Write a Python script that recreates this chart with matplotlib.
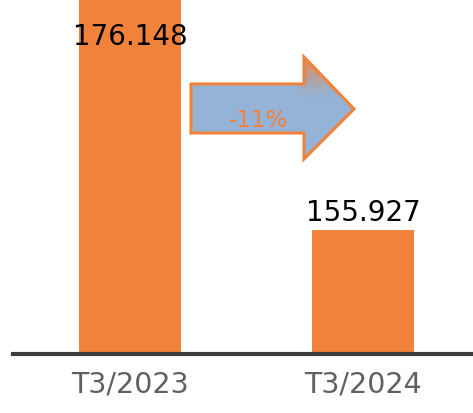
import numpy as np
import matplotlib
matplotlib.use("Agg")
import matplotlib.pyplot as plt
from matplotlib.patches import Polygon

categories = ["T3/2023", "T3/2024"]
values = [176.148, 155.927]
value_labels = ["176.148", "155.927"]
change_label = "-11%"

ORANGE = "#F0823A"
BLUE = "#95B3D7"
W, H = 473, 414
fig = plt.figure(figsize=(W / 100, H / 100), dpi=100)
ax = fig.add_axes([13 / W, 1 - 355 / H, 1 - 13 / W, 355 / H])
x = np.arange(len(categories))
ax.bar(x, values, width=0.44, color=ORANGE, zorder=2)
ax.set_ylim(145.07, 176.148)
ax.set_xlim(-0.502, 1.472)
for s in ["top", "right", "left"]:
    ax.spines[s].set_visible(False)
ax.spines["bottom"].set_color("#3A3D3F")
ax.spines["bottom"].set_linewidth(3)
ax.spines["bottom"].set_zorder(3)
ax.set_yticks([])
ax.set_xticks(x)
ax.set_xticklabels(categories, fontsize=20.5, color="#5F6060")
ax.tick_params(axis="x", length=0, pad=11)

# value labels
ax.annotate(value_labels[0], (x[0], values[0]), xytext=(0, -16.5),
            textcoords="offset points", ha="center", va="top",
            fontsize=20, color="black", zorder=4)
ax.annotate(value_labels[1], (x[1], values[1]), xytext=(0, 3),
            textcoords="offset points", ha="center", va="bottom",
            fontsize=20, color="black")

# arrow overlay in pixel coordinates
ov = fig.add_axes([0, 0, 1, 1], facecolor="none")
ov.set_xlim(0, W)
ov.set_ylim(H, 0)
ov.axis("off")
pts = [(191, 85), (304, 85), (304, 58), (354, 110), (304, 160), (304, 134), (191, 134)]
poly = Polygon(pts, closed=True, facecolor=BLUE, edgecolor="none", zorder=1)
ov.add_patch(poly)
# gradient near head top
ny = 100
grad = np.zeros((ny, 2, 4))
o = np.array(matplotlib.colors.to_rgba(ORANGE))
for i in range(ny):
    t = i / (ny - 1)
    a = max(0.0, 1 - t * 1.0) ** 1.3
    grad[i, :, :3] = o[:3]
    grad[i, :, 3] = a
im = ov.imshow(grad, extent=(300, 360, 100, 56), aspect="auto", zorder=2,
               interpolation="bilinear")
clip = Polygon(pts, closed=True, transform=ov.transData, facecolor="none", edgecolor="none")
ov.add_patch(clip)
im.set_clip_path(clip)
edge = Polygon(pts, closed=True, facecolor="none", edgecolor=ORANGE, linewidth=2.2,
               joinstyle="miter", zorder=3)
ov.add_patch(edge)
ov.text(258, 121, change_label, ha="center", va="center", fontsize=16.5,
        color=ORANGE, zorder=4)

fig.savefig("out.png", dpi=100)
